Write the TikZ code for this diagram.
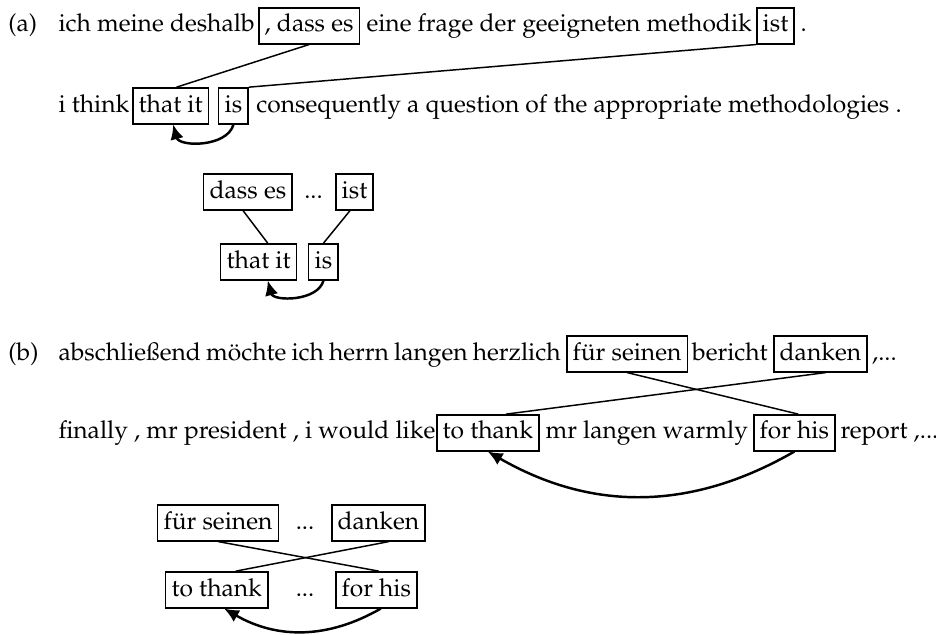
\documentclass[tikz,border=0pt]{standalone}
\usepackage[T1]{fontenc}
\usepackage{mathpazo}
\usepackage{tikz}
\usetikzlibrary{arrows.meta}

\tikzset{
  word/.style={inner sep=0pt,anchor=base west},
  dots/.style={inner sep=0pt,anchor=base},
  wordbox/.style={draw,line width=0.6pt,inner xsep=2.4pt,inner ysep=1.3pt,text height=8.5pt,text depth=3.5pt,anchor=base west},
  link/.style={line width=0.6pt},
  move/.style={line width=1pt,-{Latex[length=6pt,width=5.5pt]}}
}

\begin{document}
\begin{tikzpicture}
  \useasboundingbox (0,0) rectangle (13.371,-9.071);

  % (a) sentence pair
  \node[word] (alab) at (0.114,-0.457) {(a)};
  \node[word] (asrc1) at (0.829,-0.457) {ich meine deshalb};
  \node[wordbox] (adass) at (3.686,-0.457) {, dass es};
  \node[word] (asrc2) at (5.229,-0.457) {eine frage der geeigneten methodik};
  \node[wordbox] (aist) at (10.800,-0.457) {ist};
  \node[word] (asrc3) at (11.430,-0.457) {.};

  \node[word] (atgt1) at (0.829,-1.600) {i think};
  \node[wordbox] (athat) at (1.886,-1.600) {that it};
  \node[wordbox] (ais) at (3.114,-1.600) {is};
  \node[word] (atgt2) at (3.657,-1.600) {consequently a question of the appropriate methodologies .};

  \draw[link] (adass.south) -- ([xshift=2.4pt]athat.north);
  \draw[link] (aist.south west) -- (ais.north east);
  \draw[move] (ais.south) to[bend left=75] ([xshift=1pt]athat.south);

  % (a) phrase pair
  \node[wordbox] (mdass) at (2.900,-2.829) {dass es};
  \node[dots] (mdots) at (4.479,-2.829) {...};
  \node[wordbox] (mist) at (4.786,-2.829) {ist};
  \node[wordbox] (mthat) at (3.143,-3.829) {that it};
  \node[wordbox] (mis) at (4.400,-3.829) {is};

  \draw[link] ([xshift=-2pt]mdass.south) -- ([xshift=3.7pt]mthat.north);
  \draw[link] ([xshift=-1.8pt]mist.south) -- (mis.north);
  \draw[move] (mis.south) to[bend left=75] ([xshift=3.7pt]mthat.south);

  % (b) sentence pair
  \node[word] (blab) at (0.114,-5.143) {(b)};
  \node[word] (bsrc1) at (0.829,-5.143) {\spaceskip=2.1pt abschlie\ss{}end m\"ochte ich herrn langen herzlich};
  \node[wordbox] (bfur) at (8.086,-5.143) {f\"ur seinen};
  \node[word] (bsrc2) at (9.881,-5.143) {bericht};
  \node[wordbox] (bdanken) at (11.043,-5.143) {danken};
  \node[word] (bsrc3) at (12.452,-5.143) {,...};

  \node[word] (btgt1) at (0.829,-6.271) {finally , mr president , i would like};
  \node[wordbox] (bthank) at (6.229,-6.271) {to thank};
  \node[word] (btgt2) at (7.786,-6.271) {mr langen warmly};
  \node[wordbox] (bfor) at (10.757,-6.271) {for his};
  \node[word] (btgt3) at (12.000,-6.271) {report ,...};

  \draw[link] (bfur.south) -- ([xshift=1.6pt]bfor.north);
  \draw[link] ([xshift=2.2pt]bdanken.south) -- ([xshift=7.4pt]bthank.north);
  \draw[move] (bfor.south) to[bend left=30] (bthank.south);

  % (b) phrase pair
  \node[wordbox] (cfur) at (2.243,-7.557) {f\"ur seinen};
  \node[dots] (cdots1) at (4.357,-7.557) {...};
  \node[wordbox] (cdanken) at (4.729,-7.557) {danken};
  \node[wordbox] (cthank) at (2.357,-8.514) {to thank};
  \node[dots] (cdots2) at (4.357,-8.514) {...};
  \node[wordbox] (cfor) at (4.786,-8.514) {for his};

  \draw[link] (cfur.south) -- ([xshift=1pt]cfor.north);
  \draw[link] ([xshift=4.3pt]cdanken.south) -- ([xshift=7.7pt]cthank.north);
  \draw[move] ([xshift=1.8pt]cfor.south) to[bend left=30] ([xshift=3pt]cthank.south);
\end{tikzpicture}
\end{document}
